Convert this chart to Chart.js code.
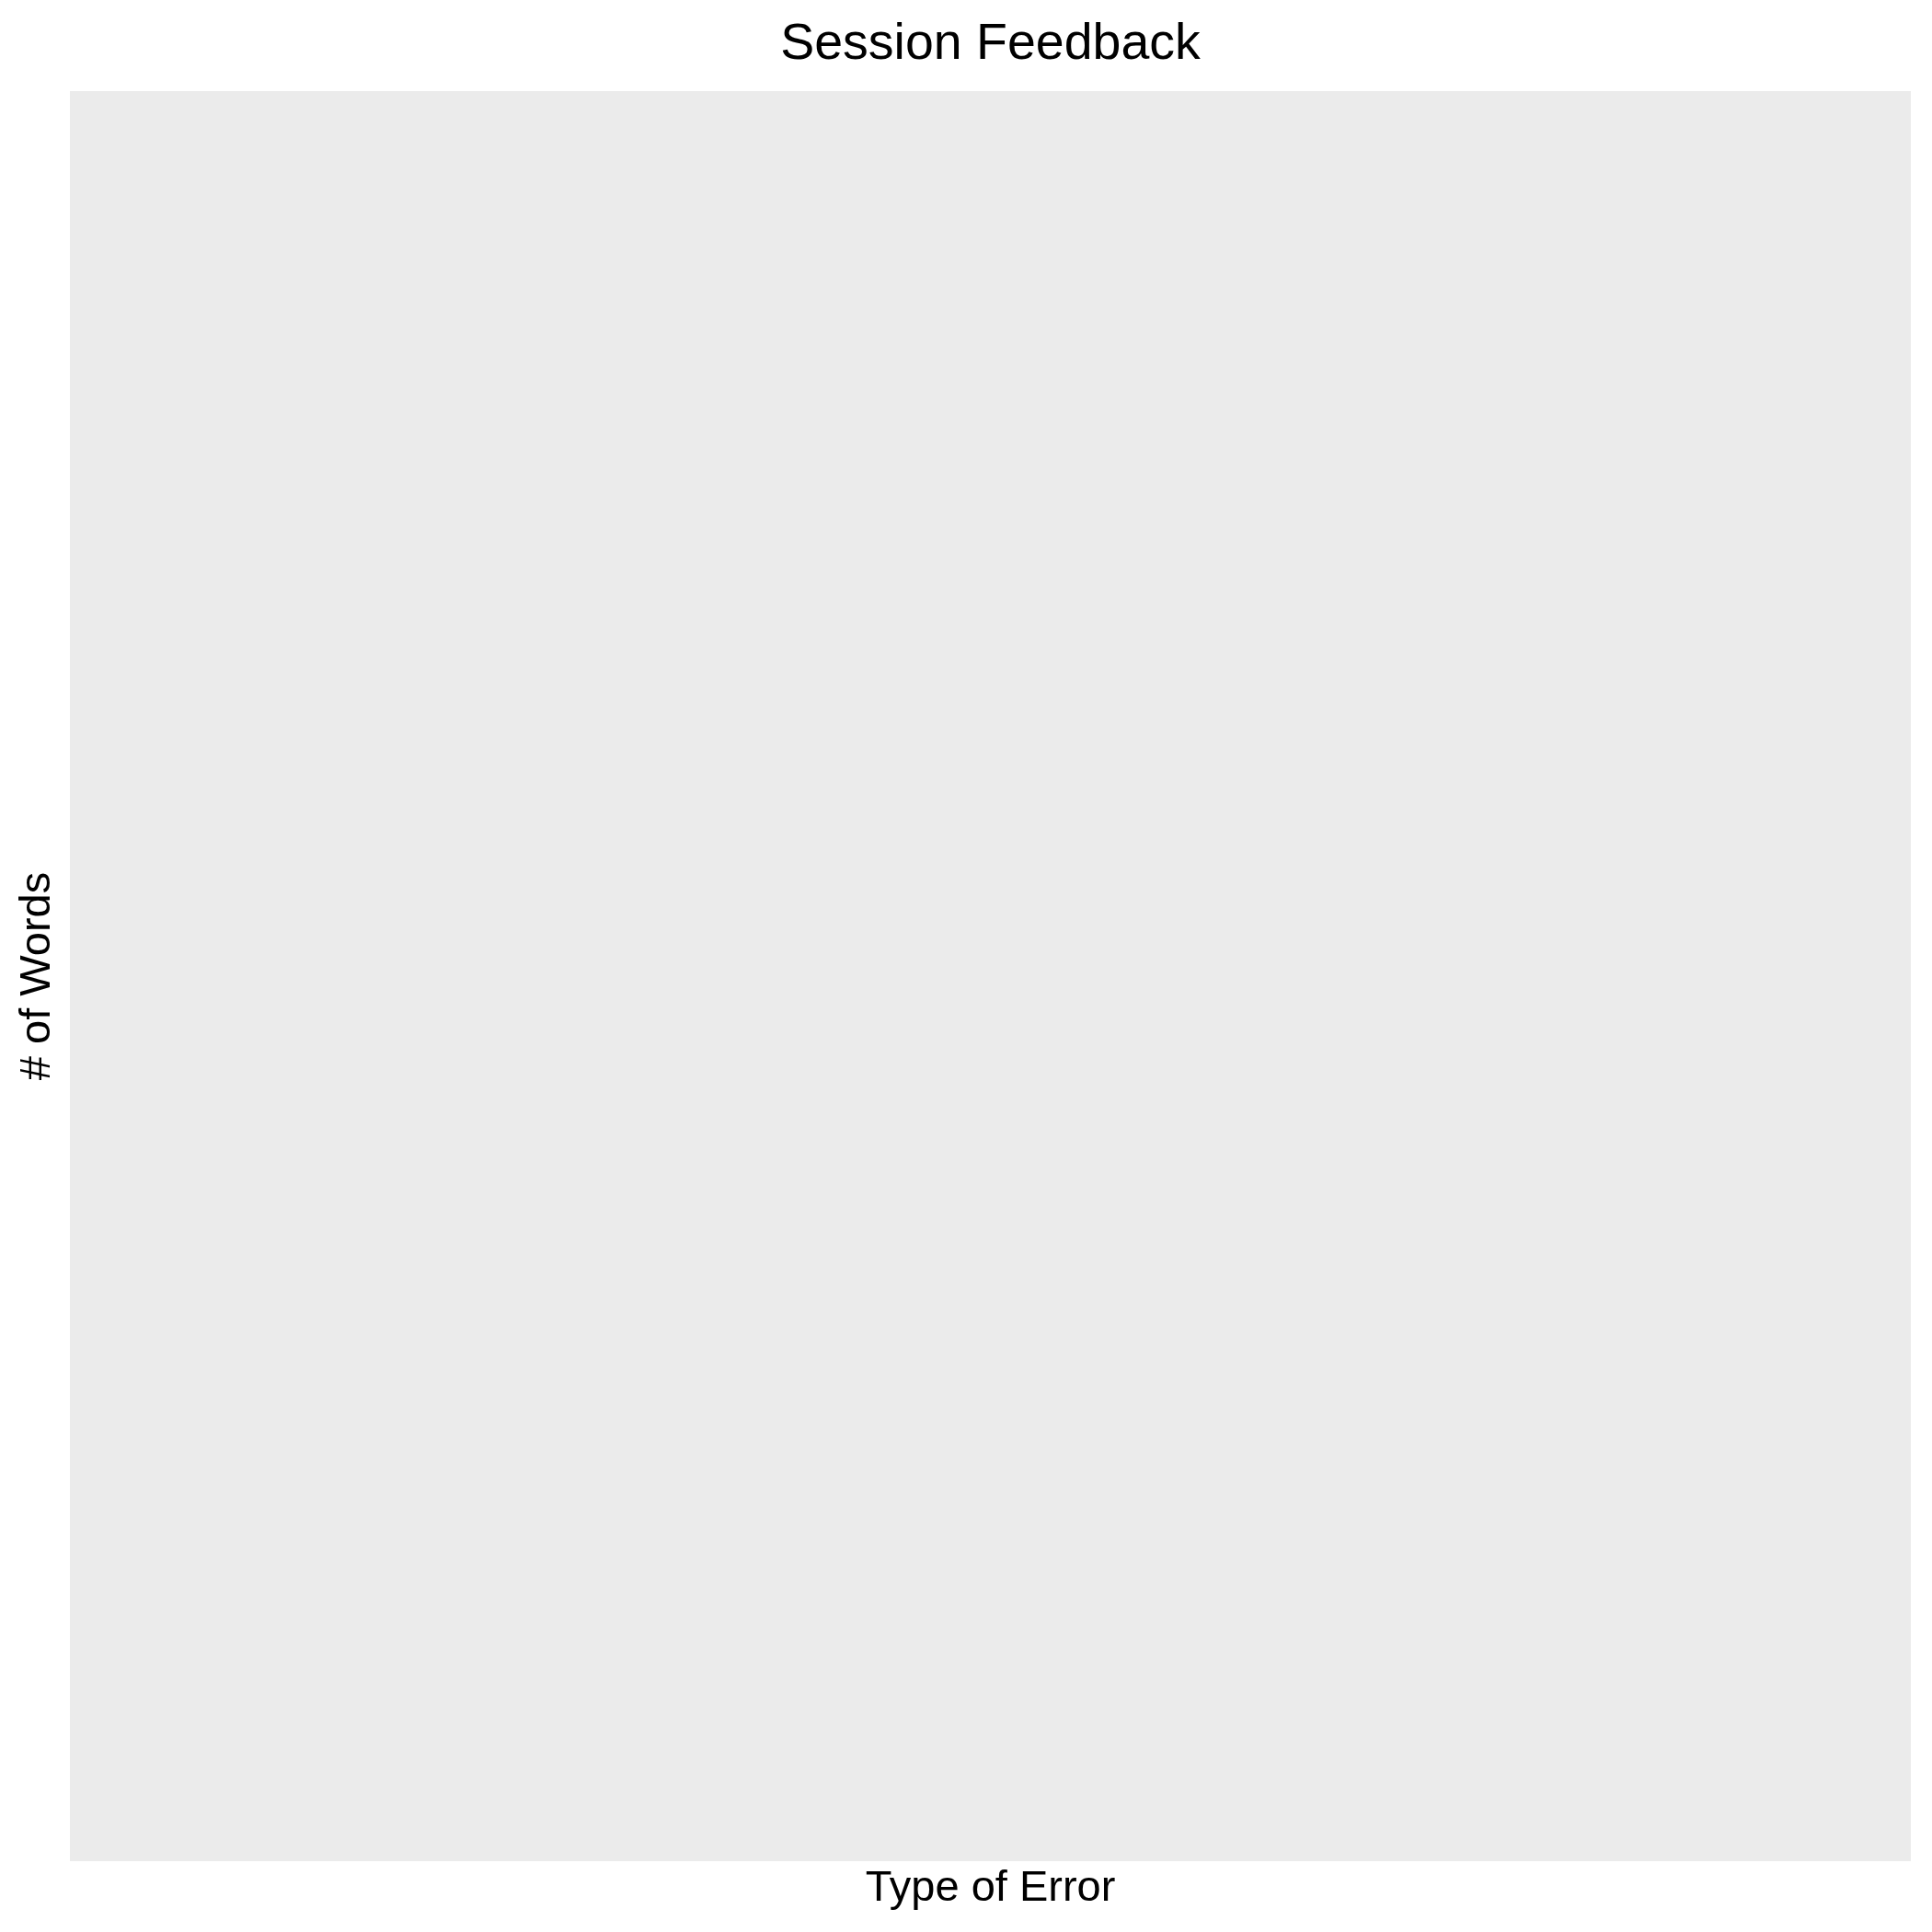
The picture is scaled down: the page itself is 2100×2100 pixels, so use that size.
<!DOCTYPE html>
<html>
<head>
<meta charset="utf-8">
<script src="https://cdn.jsdelivr.net/npm/chart.js@4"></script>
<style>
html,body{margin:0;padding:0;background:#fff;overflow:hidden;}
#wrap{width:2100px;height:2100px;position:relative;}
</style>
</head>
<body>
<div id="wrap"><canvas id="c"></canvas></div>
<script>
// Data: the reference chart is an empty plot (no categories, no values)
const categories = [];
const wordCounts = [];
const chartTitle = "Session Feedback";
const xTitle = "Type of Error";
const yTitle = "# of Words";

const panelBg = {
  id: 'panelBg',
  beforeDraw(chart) {
    const {ctx, chartArea: a} = chart;
    ctx.save();
    ctx.fillStyle = '#EBEBEB';
    ctx.fillRect(a.left, a.top, a.right - a.left, a.bottom - a.top);
    ctx.restore();
  }
};

const FONT = '"Liberation Sans", Arial, Helvetica, sans-serif';

new Chart(document.getElementById('c'), {
  type: 'bar',
  data: {
    labels: categories,
    datasets: [{ label: yTitle, data: wordCounts, backgroundColor: '#595959' }]
  },
  options: {
    responsive: true,
    maintainAspectRatio: false,
    animation: false,
    devicePixelRatio: 1,
    layout: { padding: { left: 0, top: 0, right: 23, bottom: 0 } },
    plugins: {
      legend: { display: false },
      tooltip: { enabled: false },
      title: {
        display: true,
        text: chartTitle,
        fullSize: false,
        color: '#000',
        font: { family: FONT, size: 55.5, weight: 'normal', lineHeight: 1.2 },
        padding: { top: 15.6, bottom: 16.8 }
      }
    },
    scales: {
      x: {
        grid: { display: false },
        border: { display: false },
        ticks: { display: false },
        title: {
          display: true,
          text: xTitle,
          color: '#000',
          font: { family: FONT, size: 47, lineHeight: 1.2 },
          padding: { top: 0, bottom: 19 }
        },
        afterFit(s) { s.height = 77; }
      },
      y: {
        beginAtZero: true,
        grid: { display: false },
        border: { display: false },
        ticks: { display: false },
        title: {
          display: true,
          text: yTitle,
          color: '#000',
          font: { family: FONT, size: 47, lineHeight: 1.2 },
          padding: { top: 12.5, bottom: 0 }
        },
        afterFit(s) { s.width = 76; }
      }
    }
  },
  plugins: [panelBg]
});
</script>
</body>
</html>
